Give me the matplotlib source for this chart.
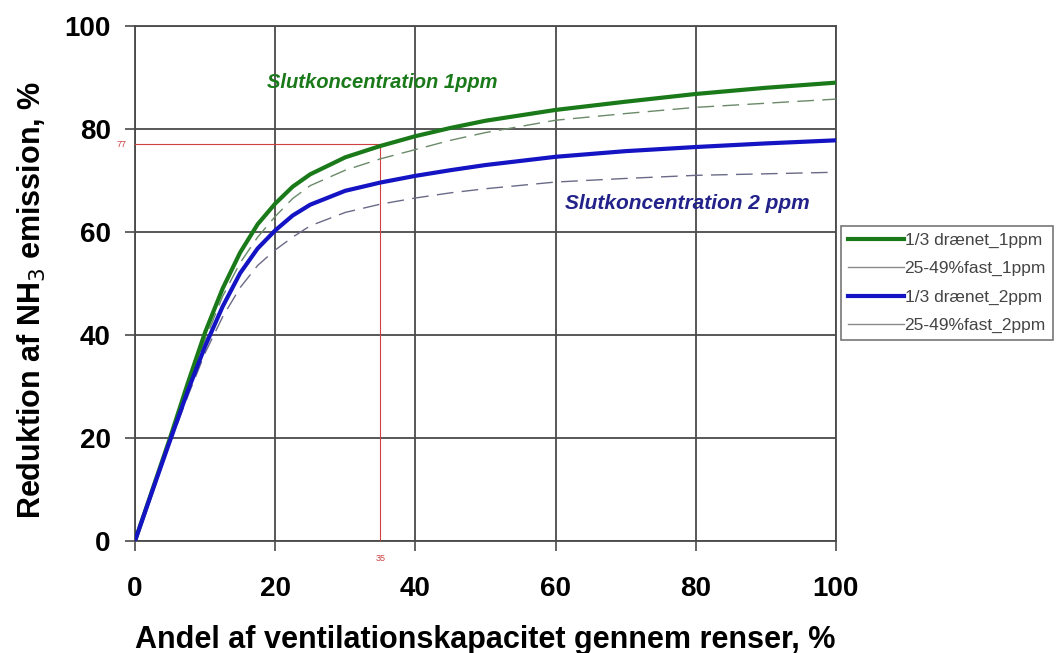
import numpy as np
import matplotlib.pyplot as plt
from matplotlib.lines import Line2D

plt.rcParams['font.family'] = ['Liberation Sans', 'DejaVu Sans']

x = [0, 2.5, 5, 7.5, 10, 12.5, 15, 17.5, 20, 22.5, 25, 30, 35, 40, 45, 50, 60, 70, 80, 90, 100]
drenet_1ppm = [0, 10, 20, 30.5, 40.5, 49, 56, 61.5, 65.5, 68.8, 71.2, 74.5, 76.7, 78.6, 80.2, 81.6,
               83.7, 85.3, 86.8, 88, 89]
fast_1ppm = [0, 9.8, 19.5, 29.5, 39, 47.5, 54, 59, 63, 66.5, 69, 72, 74.2, 76, 77.8, 79.3,
             81.7, 83, 84.2, 85, 85.8]
drenet_2ppm = [0, 9.8, 19.5, 29, 37.8, 45.5, 52, 56.8, 60.3, 63.2, 65.3, 68, 69.6, 70.9, 72, 73,
               74.6, 75.7, 76.5, 77.2, 77.8]
fast_2ppm = [0, 9.6, 19, 28, 36.5, 43.5, 49.2, 53.5, 56.5, 59, 61.2, 63.8, 65.4, 66.6, 67.6, 68.4,
             69.7, 70.4, 71, 71.3, 71.6]
labels = ['1/3 drænet_1ppm', '25-49%fast_1ppm', '1/3 drænet_2ppm', '25-49%fast_2ppm']

ref_x = 35
ref_y = 77

fig = plt.figure(figsize=(10.56, 6.53), dpi=100)
ax = fig.add_axes([0.1278, 0.1715, 0.6638, 0.7887])

ax.plot(x, drenet_1ppm, color='#1a7a1a', lw=3.0, zorder=5)
ax.plot(x, fast_1ppm, color='#6a8a6a', lw=1.0, dashes=(12, 6), zorder=4)
ax.plot(x, drenet_2ppm, color='#1414c4', lw=3.0, zorder=5)
ax.plot(x, fast_2ppm, color='#6a6a88', lw=1.0, dashes=(12, 6), zorder=4)

# hjaelpelinjer ved 35 % / 77 %
ax.plot([0, ref_x], [ref_y, ref_y], color='#d04040', lw=0.8, zorder=3)
ax.plot([ref_x, ref_x], [0, ref_y], color='#d04040', lw=0.8, zorder=3)
ax.text(-1.2, ref_y, str(ref_y), color='#d04040', fontsize=6.5, ha='right', va='center')
ax.text(ref_x, -2.5, str(ref_x), color='#d04040', fontsize=6.5, ha='center', va='top')

ax.text(18.9, 89, 'Slutkoncentration 1ppm', color='#1a7a1a', fontsize=14.5,
        fontweight='bold', style='italic', va='center')
ax.text(61.3, 65.6, 'Slutkoncentration 2 ppm', color='#22228a', fontsize=15,
        fontweight='bold', style='italic', va='center')

ax.set_xlim(0, 100)
ax.set_ylim(0, 100)
ax.set_xticks(range(0, 101, 20))
ax.set_yticks(range(0, 101, 20))
ax.grid(True, color='#4a4a4a', lw=1.3)
ax.set_axisbelow(True)
for s in ax.spines.values():
    s.set_color('#4a4a4a')
    s.set_linewidth(1.3)
ax.tick_params(length=7.5, width=1.2, color='#4a4a4a', labelsize=20)
ax.tick_params(axis='x', pad=18)
ax.tick_params(axis='y', pad=10)
for lbl in ax.get_xticklabels() + ax.get_yticklabels():
    lbl.set_fontweight('bold')

ax.set_xlabel('Andel af ventilationskapacitet gennem renser, %', fontsize=22,
              fontweight='bold', labelpad=16)
ax.set_ylabel('Reduktion af NH$_3$ emission, %', fontsize=22, fontweight='bold', labelpad=12)
ax.yaxis.label.set_y(0.468)

# legenden viser tynde hele linjer for "fast"-serierne
handles = [Line2D([], [], color='#1a7a1a', lw=3.0),
           Line2D([], [], color='#8a8a8a', lw=1.0),
           Line2D([], [], color='#1414c4', lw=3.0),
           Line2D([], [], color='#8a8a8a', lw=1.0)]
leg = ax.legend(handles, labels, loc='upper right', bbox_to_anchor=(0.997, 0.654),
                bbox_transform=fig.transFigure, fontsize=12.5, frameon=True, fancybox=False,
                edgecolor='#555555', handlelength=3.2, handletextpad=0.05, labelspacing=0.75,
                borderpad=0.4, borderaxespad=0)
leg.get_frame().set_linewidth(1.2)
for t in leg.get_texts():
    t.set_color('#444444')

fig.savefig('out.png', dpi=100)
